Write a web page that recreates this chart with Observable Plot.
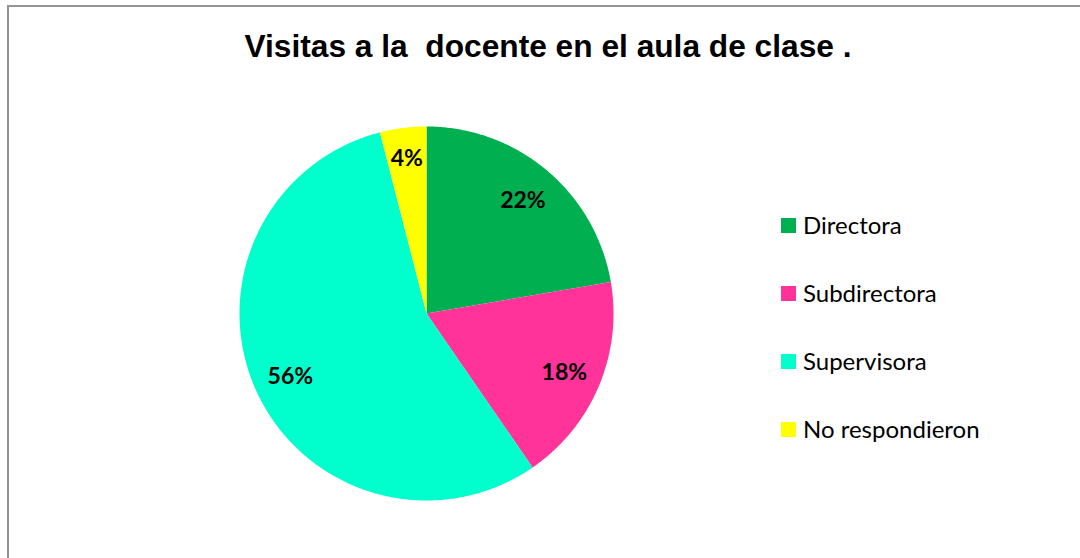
<!DOCTYPE html>
<html>
<head>
<meta charset="utf-8">
<script src="https://cdn.jsdelivr.net/npm/d3@7"></script>
<script src="https://cdn.jsdelivr.net/npm/@observablehq/plot@0.6"></script>
<style>
  html, body { margin: 0; padding: 0; background: #fff; width: 1080px; height: 558px; overflow: hidden; }
  #frame { position: absolute; left: 7px; top: 5px; width: 1100px; height: 600px; border: 2px solid #949494; box-sizing: border-box; }
  #title { position: absolute; left: 0; width: 1096px; top: 28px; text-align: center; font-family: "Liberation Sans", Arial, sans-serif; font-weight: bold; font-size: 31.7px; line-height: 36px; color: #000; white-space: pre; }
  #pie { position: absolute; left: 239px; top: 126px; }
  #legend { position: absolute; left: 781px; top: 191px; font-family: Lato, "Open Sans", sans-serif; font-size: 24px; color: #000; }
  .item { display: flex; align-items: center; height: 68px; line-height: 1; }
  .item .sw { width: 15px; height: 15px; margin-right: 7px; flex: none; }
</style>
</head>
<body>
<div id="frame"></div>
<div id="title">Visitas a la  docente en el aula de clase .</div>
<div id="pie"></div>
<div id="legend"></div>
<script>
const categories = ["Directora", "Subdirectora", "Supervisora", "No respondieron"];
const values = [22.3, 18.1, 55.6, 4.0];
const colors = ["#00B050", "#FF3399", "#00FFCC", "#FFFF00"];

const total = d3.sum(values);
const arcs = [];
const labelRows = [];
let acc = 0;
categories.forEach((cat, i) => {
  const a0 = acc / total * 2 * Math.PI;
  acc += values[i];
  const a1 = acc / total * 2 * Math.PI;
  const n = Math.max(2, Math.ceil((a1 - a0) / (Math.PI / 360)));
  arcs.push({cat, x: 0, y: 0});
  for (let k = 0; k <= n; k++) {
    const a = a0 + (a1 - a0) * k / n;
    arcs.push({cat, x: Math.sin(a), y: Math.cos(a)});
  }
  const am = (a0 + a1) / 2;
  const r = values[i] < 8 ? 0.84 : 0.8;
  labelRows.push({cat, label: Math.round(values[i] / total * 100) + "%", x: r * Math.sin(am), y: r * Math.cos(am)});
});

const chart = Plot.plot({
  width: 374,
  height: 374,
  margin: 0,
  x: {domain: [-1, 1], axis: null},
  y: {domain: [-1, 1], axis: null},
  color: {domain: categories, range: colors},
  marks: [
    Plot.line(arcs, {x: "x", y: "y", z: "cat", fill: "cat", stroke: null, curve: "linear-closed"}),
    Plot.text(labelRows, {x: "x", y: "y", text: "label", dy: 1, fontSize: 23, fontWeight: "bold", fontFamily: "Lato, 'Open Sans', sans-serif", fill: "#000"})
  ]
});
chart.style.overflow = "visible";
document.getElementById("pie").appendChild(chart);

const legend = document.getElementById("legend");
categories.forEach((cat, i) => {
  const row = document.createElement("div");
  row.className = "item";
  const sw = document.createElement("span");
  sw.className = "sw";
  sw.style.background = colors[i];
  const tx = document.createElement("span");
  tx.textContent = cat;
  row.appendChild(sw);
  row.appendChild(tx);
  legend.appendChild(row);
});
</script>
</body>
</html>
